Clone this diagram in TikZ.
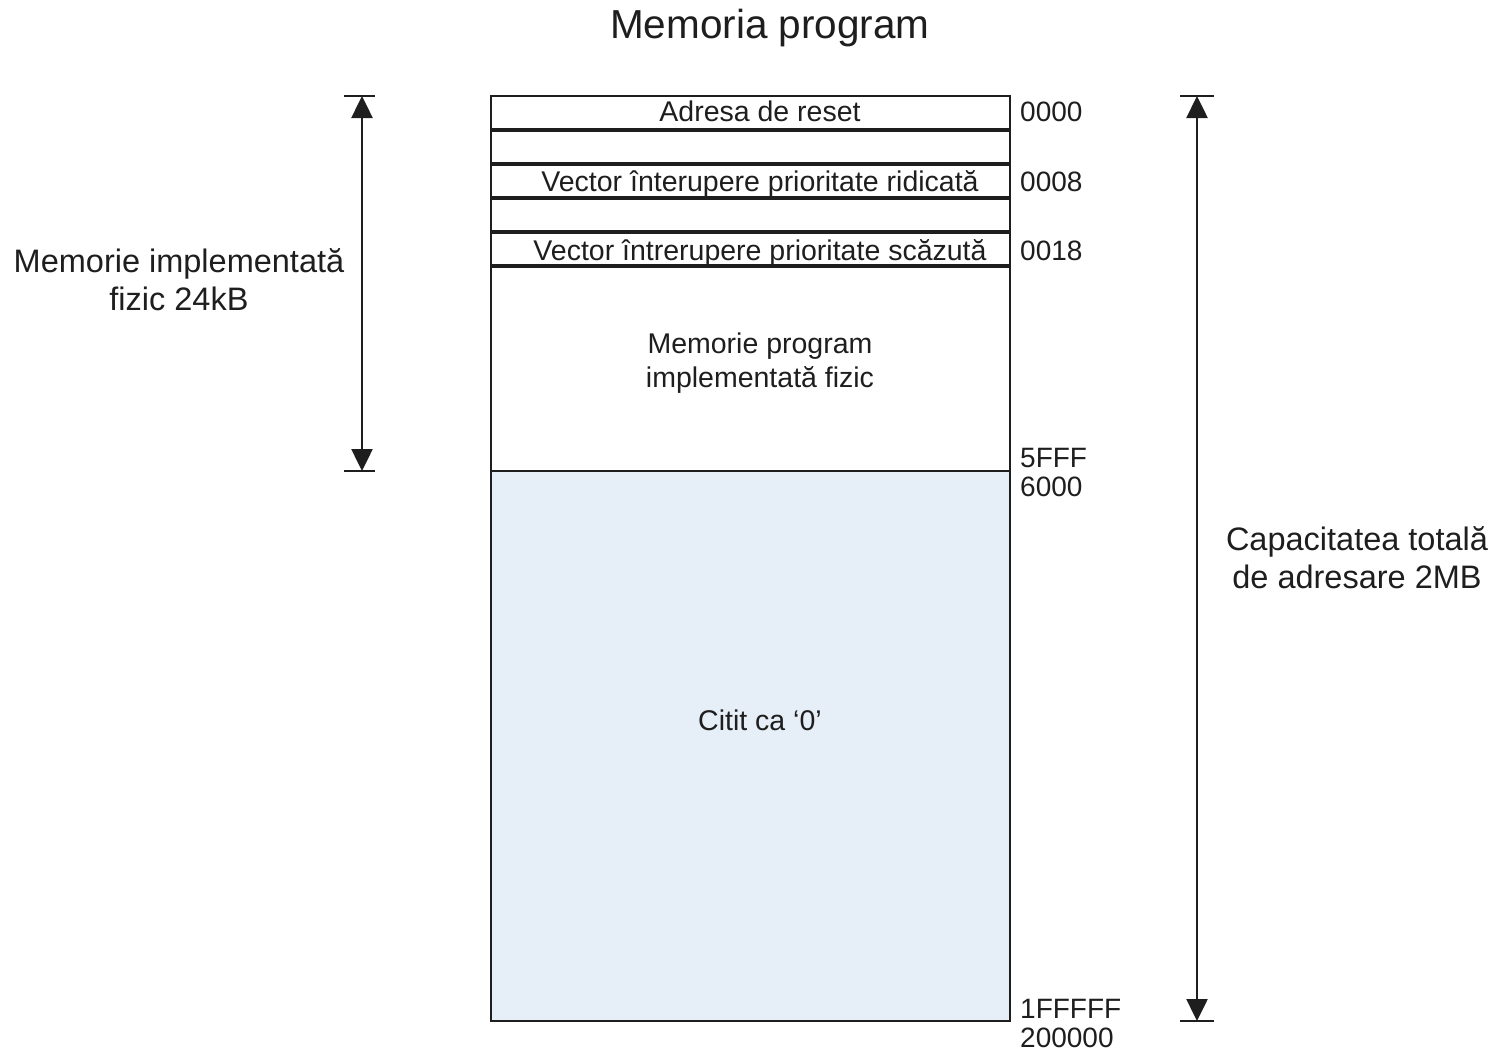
\documentclass[tikz,border=0pt]{standalone}
\usepackage{fontspec}
\setmainfont{Liberation Sans}
\usetikzlibrary{arrows.meta}
\definecolor{ink}{RGB}{30,30,30}
\definecolor{readzero}{RGB}{230,238,248}
\begin{document}
\begin{tikzpicture}[x=1pt,y=-1pt,
 cell/.style={draw=ink, line width=2pt, minimum width=519pt, anchor=north west, inner sep=0pt, outer sep=0pt},
 body/.style={font=\fontsize{28.5}{34}\selectfont, text=ink, inner sep=0pt},
 addr/.style={font=\fontsize{28}{30}\selectfont, text=ink, anchor=base west, inner sep=0pt},
 side/.style={font=\fontsize{32.5}{38}\selectfont, text=ink, align=center, inner sep=0pt},
 dim/.style={line width=2.5pt, draw=ink, {Triangle[length=22pt,width=21pt]}-{Triangle[length=22pt,width=21pt]}},
 bar/.style={line width=2.5pt, draw=ink}]
\useasboundingbox (0,0) rectangle (1501,1050);
% title
\node[font=\fontsize{40.5}{46}\selectfont, text=ink, anchor=base, inner sep=0pt] (title) at (770,38) {Memoria program};
% memory cells
\node[cell, minimum height=33pt] (r1) at (491,96) {};
\node[cell, minimum height=32pt] (r2) at (491,131) {};
\node[cell, minimum height=32pt] (r3) at (491,165) {};
\node[cell, minimum height=32pt] (r4) at (491,199) {};
\node[cell, minimum height=32pt] (r5) at (491,233) {};
\node[cell, minimum height=204pt] (r6) at (491,267) {};
\node[cell, minimum height=550pt, fill=readzero] (r7) at (491,471) {};
% cell texts
\node[body, anchor=base] (t1) at (760,121) {Adresa de reset};
\node[body, anchor=base] (t3) at (760,191) {Vector înterupere prioritate ridicată};
\node[body, anchor=base] (t5) at (760,260) {Vector întrerupere prioritate scăzută};
\node[body, align=center] (t6) at (760,363) {Memorie program\\implementată fizic};
\node[body] (t7) at (760,720) {Citit ca ‘0’};
% addresses
\node[addr] (a1) at (1020,121) {0000};
\node[addr] (a2) at (1020,191) {0008};
\node[addr] (a3) at (1020,260) {0018};
\node[addr] (a4) at (1020,467) {5FFF};
\node[addr] (a5) at (1020,496) {6000};
\node[addr] (a6) at (1020,1018) {1FFFFF};
\node[addr] (a7) at (1020,1047) {200000};
% side labels
\node[side] (ls) at (179,280) {Memorie implementată\\fizic 24kB};
\node[side] (rs) at (1357,558) {Capacitatea totală\\de adresare 2MB};
% dimension arrows
\coordinate (la) at (362,96);
\coordinate (lb) at (362,471);
\draw[dim] (la) -- (lb);
\draw[bar] ([xshift=-18pt]la) -- ([xshift=13pt]la);
\draw[bar] ([xshift=-18pt]lb) -- ([xshift=13pt]lb);
\coordinate (ra) at (1197,96);
\coordinate (rb) at (1197,1021);
\draw[dim] (ra) -- (rb);
\draw[bar] ([xshift=-17pt]ra) -- ([xshift=17pt]ra);
\draw[bar] ([xshift=-17pt]rb) -- ([xshift=17pt]rb);
\end{tikzpicture}
\end{document}
